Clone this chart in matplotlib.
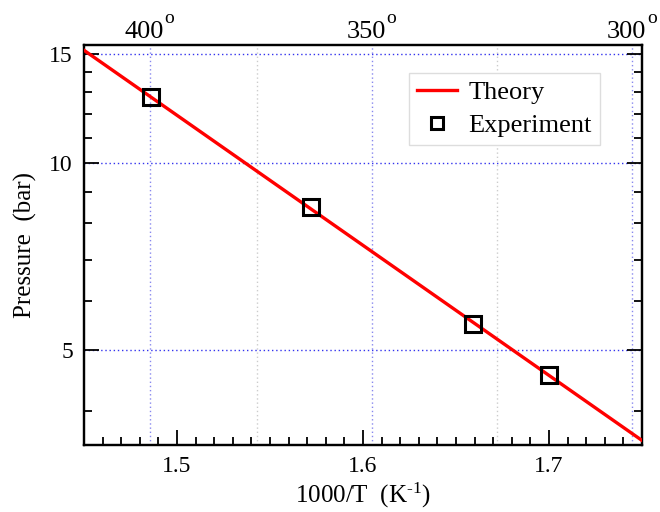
import matplotlib
matplotlib.use("Agg")
import matplotlib.pyplot as plt
from matplotlib.ticker import FixedLocator, NullFormatter

plt.rcParams['font.family'] = ['Liberation Serif', 'DejaVu Serif']
plt.rcParams['mathtext.fontset'] = 'custom'
plt.rcParams['mathtext.rm'] = 'Liberation Serif'
plt.rcParams['mathtext.it'] = 'Liberation Serif:italic'

# prosta teoretyczna (log P liniowe w 1000/T)
theory_x = [1.45, 1.75]
theory_p = [15.2, 3.58]

# punkty pomiarowe
exp_x = [1.486, 1.572, 1.659, 1.700]
exp_p = [12.8, 8.50, 5.51, 4.56]

# oś górna: temperatura w stopniach Celsjusza
top_major = [400, 350, 300]
top_minor = [375, 325]

y_major = [5, 10, 15]
y_minor = [4, 6, 7, 8, 9, 11, 12, 13, 14]


def to_x(t_c):
    return 1000.0 / (t_c + 273.15)


fig = plt.figure(figsize=(6.6, 5.12), dpi=100)
ax = fig.add_axes([84 / 660, 1 - 445 / 512, (642 - 84) / 660, (445 - 45) / 512])
ax2 = ax.twiny()

ax.plot(theory_x, theory_p, color='red', lw=2.4, label='Theory', zorder=3)
ax.plot(exp_x, exp_p, ls='none', marker='s', ms=11, mfc='none', mec='black',
        mew=2.2, label='Experiment', zorder=4)

ax.set_yscale('log')
ax.set_xlim(1.45, 1.75)
ax.set_ylim(3.52, 15.5)

ax.set_xticks([1.5, 1.6, 1.7])
ax.set_xticklabels(['1.5', '1.6', '1.7'])
ax.xaxis.set_minor_locator(FixedLocator([1.45 + 0.01 * i for i in range(31)]))
ax.yaxis.set_major_locator(FixedLocator(y_major))
ax.yaxis.set_minor_locator(FixedLocator(y_minor))
ax.set_yticklabels([str(v) for v in y_major])
ax.yaxis.set_minor_formatter(NullFormatter())

ax.tick_params(which='both', direction='in', top=False, right=True,
               labelsize=17, width=1.3, pad=8)
ax.tick_params(which='major', length=11)
ax.tick_params(which='minor', length=6)

ax.yaxis.grid(True, which='major', color='#3333ee', ls=(0, (1, 2)), lw=1.0)

# górna oś z temperaturami (stopnie jako podniesione "o")
ax2.set_xlim(ax.get_xlim())
ax2.set_xticks([to_x(t) for t in top_major])
ax2.set_xticklabels([])
ax2.set_xticks([to_x(t) for t in top_minor], minor=True)
ax2.tick_params(which='both', length=0)
ax2.xaxis.grid(True, which='major', color='#8888ee', ls=(0, (1, 2)), lw=1.0)
ax2.xaxis.grid(True, which='minor', color='#cccccc', ls=(0, (1, 2)), lw=1.0)
for t in top_major:
    ax2.annotate('%d' % t, xy=(to_x(t), 1), xycoords=('data', 'axes fraction'),
                 xytext=(-4, 5), textcoords='offset points',
                 ha='center', va='baseline', fontsize=19)
    ax2.annotate('o', xy=(to_x(t), 1), xycoords=('data', 'axes fraction'),
                 xytext=(14, 16), textcoords='offset points',
                 ha='center', va='baseline', fontsize=14)

ax.set_zorder(ax2.get_zorder() + 1)
ax.patch.set_visible(False)

for a in (ax, ax2):
    for s in a.spines.values():
        s.set_linewidth(1.6)

ax.set_xlabel(r'1000/T  (K$^{\text{-1}}$)', fontsize=18, labelpad=3)
ax.set_ylabel('Pressure  (bar)', fontsize=18, labelpad=9)

leg = ax.legend(loc='upper left', bbox_to_anchor=(409 / 660, 1 - 73 / 512),
                bbox_transform=fig.transFigure, fontsize=19, frameon=True,
                fancybox=False, edgecolor='#dddddd', framealpha=1,
                handlelength=1.5, handletextpad=0.45, borderpad=0.3,
                borderaxespad=0, labelspacing=0.35, markerscale=0.85)
leg.get_frame().set_linewidth(1.0)

fig.savefig('out.png', dpi=100)
